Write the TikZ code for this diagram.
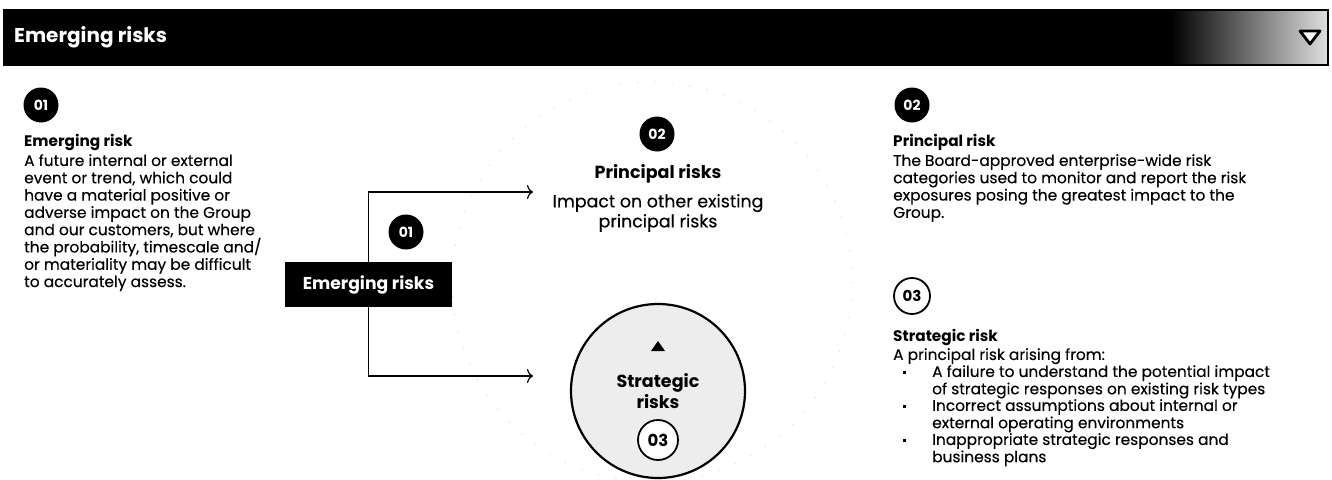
\documentclass[tikz,border=0pt]{standalone}
\usepackage{fontspec}
\setmainfont{Poppins}[UprightFeatures={FakeBold=0.25}]
\usetikzlibrary{arrows.meta}
\begin{document}
\begin{tikzpicture}[x=1pt,y=-1pt,
  badge/.style={circle,fill=black,text=white,font=\bfseries\fontsize{14}{14}\selectfont,minimum size=35pt,inner sep=0pt},
  obadge/.style={circle,draw=black,line width=1.8pt,fill=white,font=\bfseries\fontsize{15}{15}\selectfont,minimum size=36pt,inner sep=0pt},
  body/.style={font=\fontsize{15.4}{17.3}\selectfont,align=left,anchor=north west,inner sep=0pt},
  head/.style={font=\bfseries\fontsize{15.3}{15.3}\selectfont,anchor=west,inner sep=0pt},
  dot/.style={rectangle,fill=black,minimum size=3pt,inner sep=0pt},
  conn/.style={line width=1.2pt,-{To[length=6pt,width=14pt]}},
]
\useasboundingbox (0,0) rectangle (1332,479);
% header bar
\fill[black] (4,10) rectangle (1328,65);
\shade[left color=black,right color=gray!25] (1170,10) rectangle (1328,65);
\draw[line width=1.5pt] (4,10) rectangle (1328,65);
\node[anchor=west,text=white,font=\bfseries\fontsize{20}{20}\selectfont,inner sep=0pt] (title) at (14,37) {Emerging risks};
\draw[line width=2.8pt,line join=round,fill=white] (1300,31) -- (1320,31) -- (1310,44) -- cycle;

% faint background circle
\draw[gray!28,line width=0.8pt,dash pattern=on 1.5pt off 16pt] (652,282) circle[radius=200];

% left column
\node[badge] (b1l) at (41,105) {01};
\node[head] (h1) at (24,142) {Emerging risk};
\node[body] (t1) at (24,154) {A future internal or external\\event or trend, which could\\have a material positive or\\adverse impact on the Group\\and our customers, but where\\the probability, timescale and/\\or materiality may be difficult\\to accurately assess.};

% centre diagram
\node[fill=black,text=white,font=\bfseries\fontsize{17.2}{17.2}\selectfont,minimum width=167pt,minimum height=45pt,inner sep=0pt] (em) at (368.5,284.5) {Emerging risks};
\coordinate (a1) at (533,192);
\coordinate (a2) at (533,376);
\draw[conn] (em.north) |- (a1);
\draw[conn] (em.south) |- (a2);
\node[badge] (b1c) at (406,232) {01};
\node[badge] (b2c) at (657,134) {02};
\node[font=\bfseries\fontsize{17.5}{17.5}\selectfont,inner sep=0pt] (pr) at (658,174) {Principal risks};
\node[font=\fontsize{17.4}{20}\selectfont,align=center,inner sep=0pt] (imp) at (658,213) {Impact on other existing\\principal risks};
\node[circle,draw=black,line width=2.2pt,fill=gray!14,minimum size=174pt,inner sep=0pt] (sc) at (658,391) {};
\fill (651,351) -- (665,351) -- (658,341) -- cycle;
\node[font=\bfseries\fontsize{17.5}{21}\selectfont,align=center,inner sep=0pt] (st) at (658,391) {Strategic\\risks};
\node[obadge,minimum size=40pt,font=\bfseries\fontsize{16.5}{16.5}\selectfont] (b3c) at (658,440) {03};

% right column
\node[badge] (b2r) at (912,105) {02};
\node[head] (h2) at (893,142) {Principal risk};
\node[body] (t2) at (893,154) {The Board-approved enterprise-wide risk\\categories used to monitor and report the risk\\exposures posing the greatest impact to the\\Group.};
\node[obadge] (b3r) at (912,296) {03};
\node[head] (h3) at (893,337) {Strategic risk};
\node[body] (t3) at (893,348) {A principal risk arising from:};
\node[body] (i1) at (932,365) {A failure to understand the potential impact\\of strategic responses on existing risk types};
\node[body] (i2) at (932,399) {Incorrect assumptions about internal or\\external operating environments};
\node[body] (i3) at (932,433) {Inappropriate strategic responses and\\business plans};
\node[dot] (d1) at (904,372) {};
\node[dot] (d2) at (904,406) {};
\node[dot] (d3) at (904,440) {};
\end{tikzpicture}
\end{document}
